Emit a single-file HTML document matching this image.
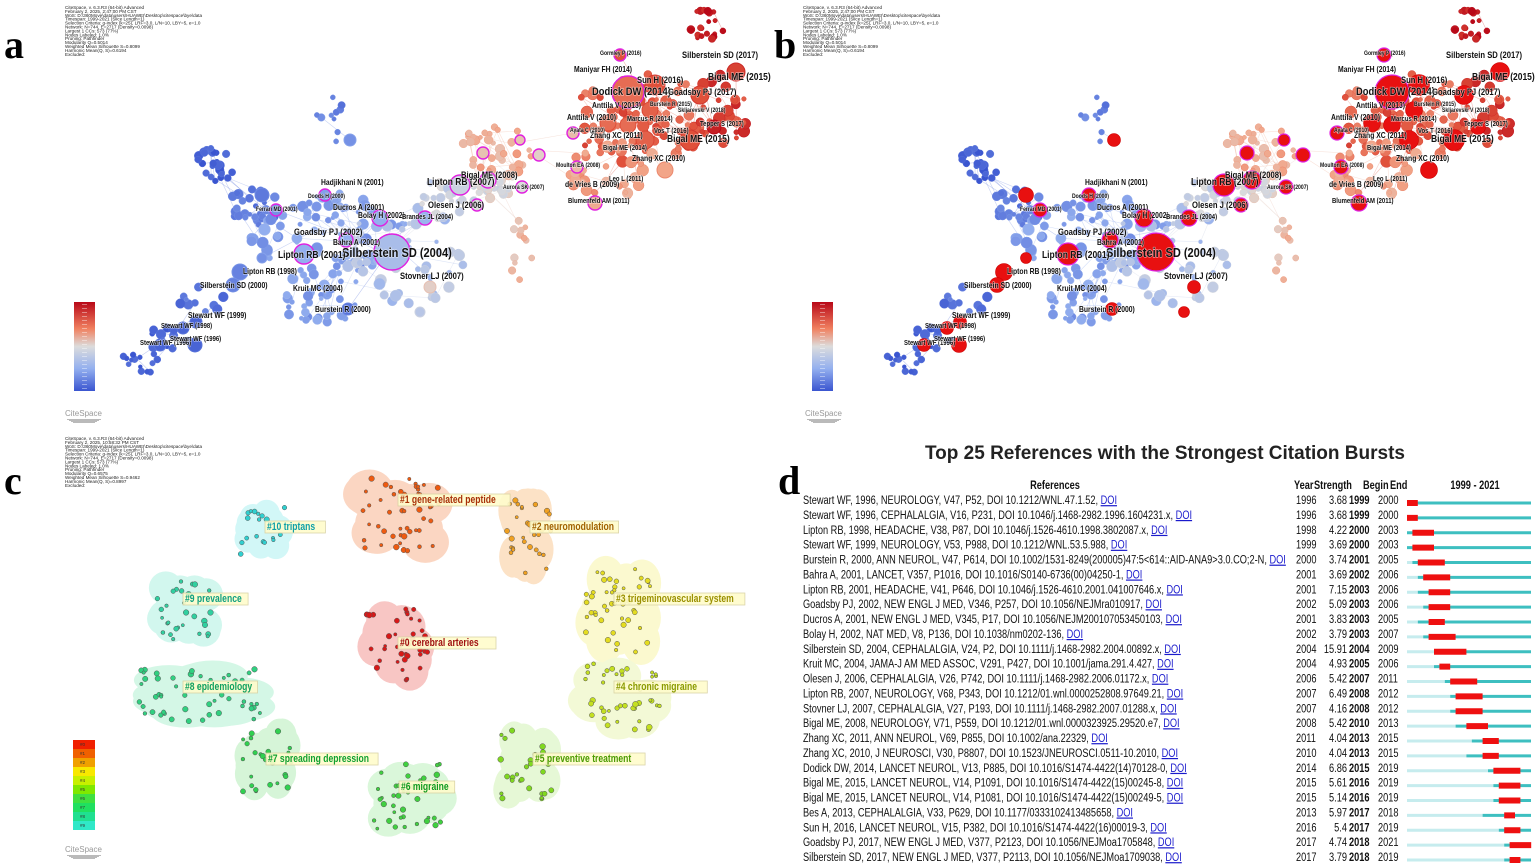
<!DOCTYPE html>
<html><head><meta charset="utf-8">
<style>
html,body{margin:0;padding:0;background:#fff;}
svg{display:block;}
.lb{font-family:"Liberation Sans",sans-serif;font-weight:bold;fill:#111;paint-order:stroke;stroke:#fff;stroke-width:1.2px;stroke-opacity:.6}
.md{font-family:"Liberation Sans",sans-serif;font-size:4.6px;fill:#222}
.big{font-family:"Liberation Serif",serif;font-weight:bold;font-size:40px;fill:#000}
.t{font-family:"Liberation Sans",sans-serif;font-size:12px;fill:#111}
.cl{font-family:"Liberation Sans",sans-serif;font-weight:bold;font-size:11px}
</style></head>
<body>
<svg id="s" width="1535" height="867" viewBox="0 0 1535 867" xmlns="http://www.w3.org/2000/svg"></svg>
<script>
var S=document.getElementById('s');var out=[];
function R(seed){return function(){seed|=0;seed=seed+0x6D2B79F5|0;var t=Math.imul(seed^seed>>>15,1|seed);t=t+Math.imul(t^t>>>7,61|t)^t;return((t^t>>>14)>>>0)/4294967296;}}
function hx(c){return [parseInt(c.substr(1,2),16),parseInt(c.substr(3,2),16),parseInt(c.substr(5,2),16)];}
var stops=[[0,'#3a55d0'],[0.3,'#93afef'],[0.5,'#dcdcdc'],[0.7,'#f2a588'],[0.85,'#e0503a'],[1,'#b80818']];
function col(t){for(var i=1;i<stops.length;i++){if(t<=stops[i][0]){var a=stops[i-1],b=stops[i];var f=(t-a[0])/(b[0]-a[0]);var A=hx(a[1]),B=hx(b[1]);return 'rgb('+A.map(function(v,k){return Math.round(v+(B[k]-v)*f)}).join(',')+')';}}return stops[stops.length-1][1];}
function T(x,y,s,attr,sx){return '<text transform="translate('+x+','+y+') scale('+sx+',1)" '+attr+'>'+s+'</text>';}
var meta=function(x,y,lines){lines.forEach(function(l,i){out.push('<text class="md" x="'+x+'" y="'+(y+i*3.9)+'">'+l+'</text>');});};
var metaA=["CiteSpace, v. 6.3.R3 (64-bit) Advanced","February 2, 2025, 2:47:00 PM CST","WoS: D:\\360Move\\data\\users\\HUAWEI\\Desktop\\citespace\\bye\\data","Timespan: 1999-2021 (Slice Length=1)","Selection Criteria: g-index (k=25), LRF=3.0, L/N=10, LBY=5, e=1.0","Network: N=744, E=2717 (Density=0.0098)","Largest 1 CCs: 573 (77%)","Nodes Labeled: 1.0%","Pruning: Pathfinder","Modularity Q=0.5014","Weighted Mean Silhouette S=0.8099","Harmonic Mean(Q, S)=0.6194","Excluded:"];
function logo(x,y){out.push('<text x="'+x+'" y="'+y+'" font-family="Liberation Sans" font-size="8" fill="#999">CiteSpace</text>');for(var i=0;i<4;i++)out.push('<rect x="'+(x+2+i*2)+'" y="'+(y+3+i)+'" width="'+(34-i*4)+'" height="0.8" fill="#aaa"/>');}
function cbar(x,y,w,h){var id='g'+x;out.push('<defs><linearGradient id="'+id+'" x1="0" y1="0" x2="0" y2="1"><stop offset="0" stop-color="#b80818"/><stop offset=".3" stop-color="#f08060"/><stop offset=".5" stop-color="#dcdcdc"/><stop offset=".75" stop-color="#93afef"/><stop offset="1" stop-color="#3a55d0"/></linearGradient></defs><rect x="'+x+'" y="'+y+'" width="'+w+'" height="'+h+'" fill="url(#'+id+')"/>');for(var i=0;i<22;i++)out.push('<rect x="'+(x+8)+'" y="'+(y+2+i*4)+'" width="5" height="0.8" fill="#fff" opacity=".5"/>');}
var cl=[[215,165,20,17,30,0.02,2.5,4.5],[255,205,25,20,28,0.12,2,5],[330,120,14,28,12,0.15,2,4],[330,240,80,48,95,0.24,2,6],[405,255,60,50,55,0.38,2,6],[320,305,40,20,28,0.24,2,5],[200,300,25,15,10,0.1,2,5],[165,335,25,15,15,0.04,2,5],[140,362,20,12,14,0.04,2,4],[495,185,22,14,30,0.5,3,5],[445,200,30,20,22,0.44,2,5],[500,150,40,28,38,0.66,2,5],[522,250,18,30,12,0.62,2,4],[640,118,70,45,95,0.82,2,6],[615,170,50,28,32,0.7,2,6],[705,25,20,15,20,0.97,2,4],[722,110,28,40,25,0.88,2,6]];
var rnd=R(7);var nodes=[];
cl.forEach(function(c,ci){for(var i=0;i<c[4];i++){var a=rnd()*6.283,r=Math.sqrt(rnd());nodes.push({x:c[0]+Math.cos(a)*r*c[2],y:c[1]+Math.sin(a)*r*c[3],r:c[6]+rnd()*(c[7]-c[6]),t:Math.max(0,Math.min(1,c[5]+(rnd()-.5)*.12)),c:ci});}});
var edges=[];nodes.forEach(function(n,i){for(var k=0;k<3;k++){var j=Math.floor(rnd()*nodes.length);var m=nodes[j];var d=Math.hypot(m.x-n.x,m.y-n.y);if(d<60)edges.push([i,j]);}});
var hubs=[[392,252,18,1,0.36],[304,254,10,1,0.3],[346,240,7,1,0.3],[380,218,8,1,0.3],[425,218,7,1,0.32],[325,195,6,1,0.25],[276,210,6,1,0.2],[460,185,10,1,0.45],[488,180,8,1,0.48],[477,205,6,1,0.5],[522,187,6,1,0.5],[595,203,7,1,0.68],[577,167,6,1,0.62],[573,133,6,1,0.62],[539,155,6,1,0.55],[483,153,6,1,0.6],[520,140,5,1,0.6],[620,55,6,1,0.85],[628,92,16,1,0.8],[714,127,7,0,0.95],[262,195,7,0,0.12],[262,258,5,0,0.2],[240,272,8,0,0.15],[233,285,7,0,0.15],[196,322,6,0,0.05],[183,328,6,0,0.05],[195,345,7,0,0.05],[160,345,6,0,0.05],[348,309,6,0,0.1],[430,287,6,0,0.55],[655,85,10,0,0.85],[700,95,9,0,0.85],[736,72,9,0,0.88],[690,140,10,0,0.85],[645,140,9,0,0.82],[608,123,8,0,0.8],[628,125,8,0,0.8],[650,110,8,0,0.82],[665,170,8,0,0.7],[420,312,5,0,0.4],[350,140,6,0,0.2]];
function net(ox,burst){var s='<g transform="translate('+ox+',0)">';edges.forEach(function(e){var a=nodes[e[0]],b=nodes[e[1]];s+='<line x1="'+a.x.toFixed(1)+'" y1="'+a.y.toFixed(1)+'" x2="'+b.x.toFixed(1)+'" y2="'+b.y.toFixed(1)+'" stroke="'+col(a.t)+'" stroke-opacity=".35" stroke-width=".6"/>';});
hubs.forEach(function(h){for(var k=0;k<4;k++){var m=nodes[Math.floor(rnd()*nodes.length)];if(Math.hypot(m.x-h[0],m.y-h[1])<80)s+='<line x1="'+h[0]+'" y1="'+h[1]+'" x2="'+m.x.toFixed(1)+'" y2="'+m.y.toFixed(1)+'" stroke="'+col(h[4])+'" stroke-opacity=".4" stroke-width=".6"/>';}});
nodes.forEach(function(n){s+='<circle cx="'+n.x.toFixed(1)+'" cy="'+n.y.toFixed(1)+'" r="'+n.r.toFixed(1)+'" fill="'+col(n.t)+'" stroke="'+col(Math.min(1,n.t+.05))+'" stroke-width=".5"/>';});
hubs.forEach(function(h){if(burst){s+='<circle cx="'+h[0]+'" cy="'+h[1]+'" r="'+(h[2]+0.5)+'" fill="#e81010" stroke="#c00" stroke-width=".6"/>';if(h[3])s+='<circle cx="'+h[0]+'" cy="'+h[1]+'" r="'+(h[2]+1)+'" fill="none" stroke="#e020e0" stroke-width="1.2"/>';}else{s+='<circle cx="'+h[0]+'" cy="'+h[1]+'" r="'+h[2]+'" fill="'+col(h[4])+'" stroke="'+col(h[4]+.05)+'"/>';if(h[3])s+='<circle cx="'+h[0]+'" cy="'+h[1]+'" r="'+h[2]+'" fill="none" stroke="#e020e0" stroke-width="1.4"/>';}});
labs.forEach(function(l){s+=T(l[1],l[2],l[0],'class="lb" font-size="'+l[3]+'"',0.85);});
return s+'</g>';}
var labs=[["Silberstein SD (2004)",342,257,13],["Lipton RB (2001)",278,258,10],["Goadsby PJ (2002)",294,235,9],["Bahra A (2001)",333,245,8],["Bolay H (2002)",358,218,8],["Brandes JL (2004)",402,219,7],["Ducros A (2001)",333,210,8],["Hadjikhani N (2001)",321,185,8],["Doods H (2000)",308,198,6],["Ferrari MD (2001)",256,211,6],["Lipton RB (1998)",243,274,8],["Silberstein SD (2000)",200,288,8],["Kruit MC (2004)",293,291,8],["Burstein R (2000)",315,312,8],["Stewart WF (1999)",188,318,8],["Stewart WF (1998)",161,328,7],["Stewart WF (1996)",140,345,7],["Stewart WF (1996)",170,341,7],["Stovner LJ (2007)",400,279,9],["Olesen J (2006)",428,208,9],["Lipton RB (2007)",427,185,10],["Bigal ME (2008)",461,178,9],["Aurora SK (2007)",503,189,6],["Blumenfeld AM (2011)",568,203,7],["de Vries B (2009)",565,187,8],["Leo L (2011)",609,181,7],["Zhang XC (2010)",632,161,8],["Bigal ME (2014)",603,150,7],["Zhang XC (2011)",590,138,8],["Bigal ME (2015)",667,142,10],["Vos T (2016)",654,133,7],["Ayata C (2010)",570,132,6],["Moulton EA (2008)",556,167,6],["Anttila V (2010)",567,120,8],["Anttila V (2013)",592,108,8],["Marcus R (2014)",627,121,7],["Burstein R (2015)",650,106,6],["Skljarevski V (2018)",678,112,6],["Tepper S (2017)",700,126,7],["Dodick DW (2014)",592,95,11],["Goadsby PJ (2017)",668,95,9],["Sun H (2016)",637,83,9],["Bigal ME (2015)",708,80,10],["Maniyar FH (2014)",574,72,8],["Gormley P (2016)",600,55,6],["Silberstein SD (2017)",682,58,9]];
out.push(net(0,false));out.push(net(764,true));
out.push('<text class="big" x="4" y="58">a</text><text class="big" x="774" y="58">b</text><text class="big" x="4" y="494">c</text><text class="big" x="778" y="494">d</text>');
meta(65,9,metaA);meta(803,9,metaA);
var metaC=metaA.slice();metaC[1]="February 2, 2025, 10:58:32 PM CST";metaC[9]="Modularity Q=0.6575";metaC[10]="Weighted Mean Silhouette S=0.9462";metaC[11]="Harmonic Mean(Q, S)=0.8997";meta(65,440,metaC);
cbar(74,302,21,89);cbar(812,302,21,89);logo(65,416);logo(805,416);logo(65,852);
var C=[["#0 cerebral arteries",400,645,355,600,440,690,'#f8c6c4','#d81818','#a01010'],["#1 gene-related peptide",400,502,345,468,452,562,'#fbd6c2','#ee5a10','#a83008'],["#2 neuromodulation",532,529,498,490,560,585,'#fce2c6','#f0a020','#a06000'],["#3 trigeminovascular system",616,601,575,558,662,665,'#fbf9cf','#e4dc20','#9a9000'],["#4 chronic migraine",616,689,568,655,672,738,'#f3f9d6','#c4e020','#8a9a00'],["#5 preventive treatment",535,761,492,722,560,808,'#e6f8d6','#80d820','#4a9a00'],["#6 migraine",401,789,362,755,455,838,'#daf7da','#40d040','#109a20'],["#7 spreading depression",268,761,235,720,300,800,'#d6f5d8','#30d050','#10a030'],["#8 epidemiology",185,689,120,660,280,728,'#d4f7e6','#30d080','#10a060'],["#9 prevalence",185,601,145,572,222,647,'#d2f7ee','#30d0a0','#10a080'],["#10 triptans",267,529,232,500,292,562,'#d2f7f7','#30d0d0','#10a0a8']];
var r2=R(11);
C.forEach(function(c){var x0=c[3],y0=c[4],x1=c[5],y1=c[6],w=x1-x0,h=y1-y0;var s='<g fill="'+c[7]+'">';for(var i=0;i<18;i++){s+='<ellipse cx="'+(x0+w*.2+r2()*w*.6).toFixed(1)+'" cy="'+(y0+h*.2+r2()*h*.6).toFixed(1)+'" rx="'+(w*.22)+'" ry="'+(h*.22)+'"/>';}s+='</g>';out.push(s);var n=Math.round(w*h/200);for(var i=0;i<n;i++){out.push('<circle cx="'+(x0+w*.12+r2()*w*.76).toFixed(1)+'" cy="'+(y0+h*.1+r2()*h*.8).toFixed(1)+'" r="'+(1.6+r2()*1.3).toFixed(1)+'" fill="'+c[8]+'" stroke="#555" stroke-width=".5"/>');}});
C.forEach(function(c){var w=c[0].length*4.7+4;out.push('<rect x="'+(c[1]-2)+'" y="'+(c[2]-8)+'" width="'+w+'" height="12" fill="#fffccc" stroke="#d8d0a0" stroke-width=".8" opacity=".9"/>'+T(c[1],c[2]+1,c[0],'class="cl" fill="'+c[9]+'"',0.78));});
var lc=['#f02000','#f06000','#f0a000','#f8e800','#c8f000','#80e800','#40e040','#20e060','#20e090','#30e8c8'];lc.forEach(function(c,i){out.push('<rect x="73" y="'+(740+i*9)+'" width="22" height="9" fill="'+c+'"/><text x="80" y="'+(746+i*9)+'" font-size="4.5" font-family="Liberation Sans" fill="#333">#'+i+'</text>');});
out.push('<text x="1165" y="459" text-anchor="middle" font-family="Liberation Sans" font-weight="bold" font-size="19" fill="#222">Top 25 References with the Strongest Citation Bursts</text>');
var H='font-family="Liberation Sans" font-weight="bold" font-size="12" fill="#111"';
out.push(T(1055,489,'References',H+' text-anchor="middle"',0.77)+T(1294,489,'Year',H,0.77)+T(1314,489,'Strength',H,0.77)+T(1363,489,'Begin',H,0.77)+T(1390,489,'End',H,0.77)+T(1475,489,'1999 - 2021',H+' text-anchor="middle"',0.77));
var D=[["Stewart WF, 1996, NEUROLOGY, V47, P52, DOI 10.1212/WNL.47.1.52,",1996,"3.68",1999,2000],["Stewart WF, 1996, CEPHALALGIA, V16, P231, DOI 10.1046/j.1468-2982.1996.1604231.x,",1996,"3.68",1999,2000],["Lipton RB, 1998, HEADACHE, V38, P87, DOI 10.1046/j.1526-4610.1998.3802087.x,",1998,"4.22",2000,2003],["Stewart WF, 1999, NEUROLOGY, V53, P988, DOI 10.1212/WNL.53.5.988,",1999,"3.69",2000,2003],["Burstein R, 2000, ANN NEUROL, V47, P614, DOI 10.1002/1531-8249(200005)47:5&lt;614::AID-ANA9&gt;3.0.CO;2-N,",2000,"3.74",2001,2005],["Bahra A, 2001, LANCET, V357, P1016, DOI 10.1016/S0140-6736(00)04250-1,",2001,"3.69",2002,2006],["Lipton RB, 2001, HEADACHE, V41, P646, DOI 10.1046/j.1526-4610.2001.041007646.x,",2001,"7.15",2003,2006],["Goadsby PJ, 2002, NEW ENGL J MED, V346, P257, DOI 10.1056/NEJMra010917,",2002,"5.09",2003,2006],["Ducros A, 2001, NEW ENGL J MED, V345, P17, DOI 10.1056/NEJM200107053450103,",2001,"3.83",2003,2005],["Bolay H, 2002, NAT MED, V8, P136, DOI 10.1038/nm0202-136,",2002,"3.79",2003,2007],["Silberstein SD, 2004, CEPHALALGIA, V24, P2, DOI 10.1111/j.1468-2982.2004.00892.x,",2004,"15.91",2004,2009],["Kruit MC, 2004, JAMA-J AM MED ASSOC, V291, P427, DOI 10.1001/jama.291.4.427,",2004,"4.93",2005,2006],["Olesen J, 2006, CEPHALALGIA, V26, P742, DOI 10.1111/j.1468-2982.2006.01172.x,",2006,"5.42",2007,2011],["Lipton RB, 2007, NEUROLOGY, V68, P343, DOI 10.1212/01.wnl.0000252808.97649.21,",2007,"6.49",2008,2012],["Stovner LJ, 2007, CEPHALALGIA, V27, P193, DOI 10.1111/j.1468-2982.2007.01288.x,",2007,"4.16",2008,2012],["Bigal ME, 2008, NEUROLOGY, V71, P559, DOI 10.1212/01.wnl.0000323925.29520.e7,",2008,"5.42",2010,2013],["Zhang XC, 2011, ANN NEUROL, V69, P855, DOI 10.1002/ana.22329,",2011,"4.04",2013,2015],["Zhang XC, 2010, J NEUROSCI, V30, P8807, DOI 10.1523/JNEUROSCI.0511-10.2010,",2010,"4.04",2013,2015],["Dodick DW, 2014, LANCET NEUROL, V13, P885, DOI 10.1016/S1474-4422(14)70128-0,",2014,"6.86",2015,2019],["Bigal ME, 2015, LANCET NEUROL, V14, P1091, DOI 10.1016/S1474-4422(15)00245-8,",2015,"5.61",2016,2019],["Bigal ME, 2015, LANCET NEUROL, V14, P1081, DOI 10.1016/S1474-4422(15)00249-5,",2015,"5.14",2016,2019],["Bes A, 2013, CEPHALALGIA, V33, P629, DOI 10.1177/0333102413485658,",2013,"5.97",2017,2018],["Sun H, 2016, LANCET NEUROL, V15, P382, DOI 10.1016/S1474-4422(16)00019-3,",2016,"5.4",2017,2019],["Goadsby PJ, 2017, NEW ENGL J MED, V377, P2123, DOI 10.1056/NEJMoa1705848,",2017,"4.74",2018,2021],["Silberstein SD, 2017, NEW ENGL J MED, V377, P2113, DOI 10.1056/NEJMoa1709038,",2017,"3.79",2018,2019]];
var X0=1407,YW=5.4,SX=0.77;
D.forEach(function(d,i){var cy=500+i*14.875,b=cy+4;
out.push(T(803,b,d[0]+' <tspan fill="#1a1acc" text-decoration="underline">DOI</tspan>','class="t"',SX));
out.push(T(1296,b,d[1],'class="t"',SX)+T(1347,b,d[2],'class="t" text-anchor="end"',SX)+T(1349,b,d[3],'class="t" font-weight="bold"',SX)+T(1378,b,d[4],'class="t"',SX));
var yb=cy+3;var xs=X0+Math.max(0,d[1]-1999)*YW;
if(xs>X0)out.push('<rect x="'+X0+'" y="'+(yb-1.5)+'" width="'+(xs-X0)+'" height="3" fill="#c6ecee"/>');
out.push('<rect x="'+xs+'" y="'+(yb-1.5)+'" width="'+(1531-xs)+'" height="3" fill="#3dbfc0"/>');
out.push('<rect x="'+(X0+(d[3]-1999)*YW)+'" y="'+(yb-3)+'" width="'+((d[4]-d[3]+1)*YW)+'" height="6" fill="#ee1010"/>');});
S.innerHTML=out.join('');
</script>
</body></html>
